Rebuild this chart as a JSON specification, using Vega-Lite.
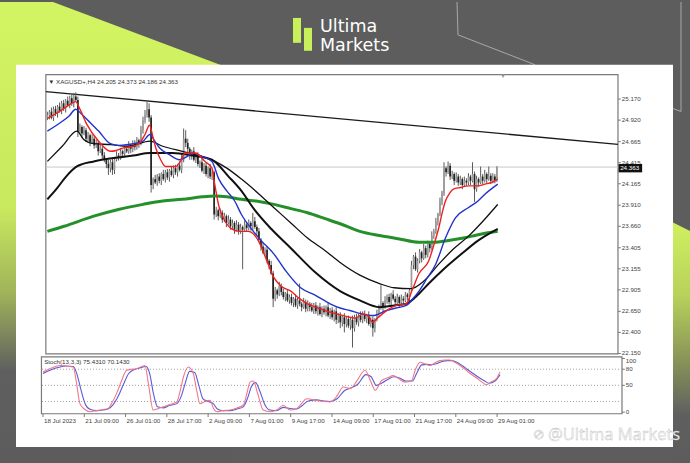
{
"$schema":"https://vega.github.io/schema/vega-lite/v6.json",
"width":690,"height":463,"padding":0,
"autosize":{"type":"fit","contains":"padding"},
"background":"#5d5d5d",
"config":{"view":{"stroke":null},"axis":{"disable":true},"text":{"font":"Liberation Sans"}},
"datasets":{
"candles":[
{"i":0,"o":24.95,"h":25.02,"l":24.92,"c":24.98},{"i":1,"o":24.98,"h":25.04,"l":24.93,"c":25.02},{"i":2,"o":25.02,"h":25.07,"l":24.93,"c":24.95},{"i":3,"o":24.95,"h":25.08,"l":24.91,"c":25.05},{"i":4,"o":25.05,"h":25.09,"l":24.97,"c":25.0},{"i":5,"o":25.0,"h":25.1,"l":24.95,"c":25.08},{"i":6,"o":25.08,"h":25.13,"l":25.01,"c":25.03},{"i":7,"o":25.03,"h":25.15,"l":24.99,"c":25.12},{"i":8,"o":25.12,"h":25.16,"l":25.03,"c":25.06},{"i":9,"o":25.06,"h":25.17,"l":25.01,"c":25.15},
{"i":10,"o":25.15,"h":25.2,"l":25.08,"c":25.1},{"i":11,"o":25.1,"h":25.21,"l":25.06,"c":25.18},{"i":12,"o":25.18,"h":25.22,"l":25.09,"c":25.12},{"i":13,"o":25.12,"h":25.24,"l":25.07,"c":25.2},{"i":14,"o":25.2,"h":25.25,"l":25.14,"c":25.16},{"i":15,"o":25.16,"h":25.2,"l":24.72,"c":24.78},{"i":16,"o":24.78,"h":24.88,"l":24.75,"c":24.84},{"i":17,"o":24.84,"h":24.86,"l":24.71,"c":24.76},{"i":18,"o":24.76,"h":24.85,"l":24.74,"c":24.8},{"i":19,"o":24.8,"h":24.83,"l":24.66,"c":24.7},
{"i":20,"o":24.7,"h":24.78,"l":24.67,"c":24.74},{"i":21,"o":24.74,"h":24.76,"l":24.61,"c":24.66},{"i":22,"o":24.66,"h":24.75,"l":24.64,"c":24.7},{"i":23,"o":24.7,"h":24.73,"l":24.58,"c":24.62},{"i":24,"o":24.62,"h":24.69,"l":24.59,"c":24.65},{"i":25,"o":24.65,"h":24.67,"l":24.5,"c":24.55},{"i":26,"o":24.55,"h":24.63,"l":24.53,"c":24.58},{"i":27,"o":24.58,"h":24.61,"l":24.46,"c":24.5},{"i":28,"o":24.5,"h":24.54,"l":24.42,"c":24.45},{"i":29,"o":24.45,"h":24.47,"l":24.35,"c":24.4},
{"i":30,"o":24.4,"h":24.45,"l":24.27,"c":24.35},{"i":31,"o":24.35,"h":24.45,"l":24.3,"c":24.42},{"i":32,"o":24.42,"h":24.46,"l":24.27,"c":24.33},{"i":33,"o":24.33,"h":24.47,"l":24.28,"c":24.45},{"i":34,"o":24.45,"h":24.55,"l":24.43,"c":24.5},{"i":35,"o":24.5,"h":24.53,"l":24.44,"c":24.48},{"i":36,"o":24.48,"h":24.59,"l":24.45,"c":24.55},{"i":37,"o":24.55,"h":24.57,"l":24.47,"c":24.52},{"i":38,"o":24.52,"h":24.61,"l":24.48,"c":24.58},{"i":39,"o":24.58,"h":24.6,"l":24.53,"c":24.55},
{"i":40,"o":24.55,"h":24.67,"l":24.52,"c":24.62},{"i":41,"o":24.62,"h":24.64,"l":24.53,"c":24.58},{"i":42,"o":24.58,"h":24.68,"l":24.54,"c":24.65},{"i":43,"o":24.65,"h":24.68,"l":24.56,"c":24.6},{"i":44,"o":24.6,"h":24.72,"l":24.57,"c":24.68},{"i":45,"o":24.68,"h":24.7,"l":24.59,"c":24.64},{"i":46,"o":24.64,"h":24.85,"l":24.62,"c":24.8},{"i":47,"o":24.8,"h":24.96,"l":24.76,"c":24.92},{"i":48,"o":24.92,"h":25.04,"l":24.88,"c":24.98},{"i":49,"o":24.98,"h":25.14,"l":24.95,"c":25.05},
{"i":50,"o":25.05,"h":25.12,"l":24.9,"c":24.95},{"i":51,"o":24.95,"h":24.98,"l":24.06,"c":24.15},{"i":52,"o":24.15,"h":24.24,"l":24.1,"c":24.22},{"i":53,"o":24.22,"h":24.27,"l":24.16,"c":24.18},{"i":54,"o":24.18,"h":24.28,"l":24.14,"c":24.25},{"i":55,"o":24.25,"h":24.29,"l":24.17,"c":24.2},{"i":56,"o":24.2,"h":24.3,"l":24.15,"c":24.28},{"i":57,"o":24.28,"h":24.33,"l":24.2,"c":24.22},{"i":58,"o":24.22,"h":24.33,"l":24.18,"c":24.3},{"i":59,"o":24.3,"h":24.34,"l":24.21,"c":24.24},
{"i":60,"o":24.24,"h":24.34,"l":24.19,"c":24.32},{"i":61,"o":24.32,"h":24.37,"l":24.25,"c":24.27},{"i":62,"o":24.27,"h":24.38,"l":24.23,"c":24.35},{"i":63,"o":24.35,"h":24.39,"l":24.27,"c":24.3},{"i":64,"o":24.3,"h":24.4,"l":24.25,"c":24.38},{"i":65,"o":24.38,"h":24.43,"l":24.31,"c":24.33},{"i":66,"o":24.33,"h":24.52,"l":24.29,"c":24.45},{"i":67,"o":24.45,"h":24.82,"l":24.42,"c":24.7},{"i":68,"o":24.7,"h":24.8,"l":24.6,"c":24.65},{"i":69,"o":24.65,"h":24.7,"l":24.54,"c":24.58},
{"i":70,"o":24.58,"h":24.6,"l":24.45,"c":24.5},{"i":71,"o":24.5,"h":24.57,"l":24.45,"c":24.55},{"i":72,"o":24.55,"h":24.6,"l":24.43,"c":24.45},{"i":73,"o":24.45,"h":24.53,"l":24.41,"c":24.5},{"i":74,"o":24.5,"h":24.54,"l":24.37,"c":24.4},{"i":75,"o":24.4,"h":24.44,"l":24.35,"c":24.42},{"i":76,"o":24.42,"h":24.47,"l":24.3,"c":24.32},{"i":77,"o":24.32,"h":24.41,"l":24.28,"c":24.38},{"i":78,"o":24.38,"h":24.42,"l":24.25,"c":24.28},{"i":79,"o":24.28,"h":24.37,"l":24.23,"c":24.35},
{"i":80,"o":24.35,"h":24.4,"l":24.22,"c":24.25},{"i":81,"o":24.25,"h":24.33,"l":24.21,"c":24.3},{"i":82,"o":24.3,"h":24.32,"l":23.74,"c":23.8},{"i":83,"o":23.8,"h":23.89,"l":23.77,"c":23.85},{"i":84,"o":23.85,"h":23.87,"l":23.73,"c":23.78},{"i":85,"o":23.78,"h":23.87,"l":23.76,"c":23.82},{"i":86,"o":23.82,"h":23.85,"l":23.7,"c":23.74},{"i":87,"o":23.74,"h":23.82,"l":23.71,"c":23.78},{"i":88,"o":23.78,"h":23.8,"l":23.65,"c":23.7},{"i":89,"o":23.7,"h":23.79,"l":23.68,"c":23.74},
{"i":90,"o":23.74,"h":23.77,"l":23.62,"c":23.66},{"i":91,"o":23.66,"h":23.74,"l":23.63,"c":23.7},{"i":92,"o":23.7,"h":23.72,"l":23.57,"c":23.62},{"i":93,"o":23.62,"h":23.73,"l":23.6,"c":23.68},{"i":94,"o":23.68,"h":23.71,"l":23.56,"c":23.6},{"i":95,"o":23.6,"h":23.69,"l":23.57,"c":23.65},{"i":96,"o":23.65,"h":23.67,"l":23.15,"c":23.62},{"i":97,"o":23.62,"h":23.73,"l":23.6,"c":23.68},{"i":98,"o":23.68,"h":23.71,"l":23.6,"c":23.64},{"i":99,"o":23.64,"h":23.74,"l":23.61,"c":23.7},
{"i":100,"o":23.7,"h":23.72,"l":23.61,"c":23.66},{"i":101,"o":23.66,"h":23.82,"l":23.61,"c":23.72},{"i":102,"o":23.72,"h":23.77,"l":23.63,"c":23.65},{"i":103,"o":23.65,"h":23.68,"l":23.56,"c":23.6},{"i":104,"o":23.6,"h":23.64,"l":23.47,"c":23.5},{"i":105,"o":23.5,"h":23.52,"l":23.37,"c":23.42},{"i":106,"o":23.42,"h":23.47,"l":23.33,"c":23.35},{"i":107,"o":23.35,"h":23.41,"l":23.31,"c":23.38},{"i":108,"o":23.38,"h":23.42,"l":23.22,"c":23.25},{"i":109,"o":23.25,"h":23.27,"l":23.15,"c":23.2},
{"i":110,"o":23.2,"h":23.25,"l":23.08,"c":23.1},{"i":111,"o":23.1,"h":23.13,"l":22.7,"c":22.8},{"i":112,"o":22.8,"h":22.94,"l":22.77,"c":22.9},{"i":113,"o":22.9,"h":22.92,"l":22.8,"c":22.85},{"i":114,"o":22.85,"h":23.0,"l":22.83,"c":22.95},{"i":115,"o":22.95,"h":22.98,"l":22.84,"c":22.88},{"i":116,"o":22.88,"h":22.92,"l":22.79,"c":22.82},{"i":117,"o":22.82,"h":22.88,"l":22.77,"c":22.86},{"i":118,"o":22.86,"h":22.91,"l":22.76,"c":22.78},{"i":119,"o":22.78,"h":22.85,"l":22.74,"c":22.82},
{"i":120,"o":22.82,"h":22.86,"l":22.72,"c":22.75},{"i":121,"o":22.75,"h":22.82,"l":22.7,"c":22.8},{"i":122,"o":22.8,"h":22.85,"l":22.7,"c":22.72},{"i":123,"o":22.72,"h":22.81,"l":22.68,"c":22.78},{"i":124,"o":22.78,"h":22.98,"l":22.71,"c":22.74},{"i":125,"o":22.74,"h":22.76,"l":22.65,"c":22.7},{"i":126,"o":22.7,"h":22.81,"l":22.68,"c":22.76},{"i":127,"o":22.76,"h":22.79,"l":22.64,"c":22.68},{"i":128,"o":22.68,"h":22.78,"l":22.65,"c":22.74},{"i":129,"o":22.74,"h":22.76,"l":22.65,"c":22.7},
{"i":130,"o":22.7,"h":22.75,"l":22.64,"c":22.66},{"i":131,"o":22.66,"h":22.75,"l":22.62,"c":22.72},{"i":132,"o":22.72,"h":22.76,"l":22.62,"c":22.65},{"i":133,"o":22.65,"h":22.72,"l":22.6,"c":22.7},{"i":134,"o":22.7,"h":22.75,"l":22.6,"c":22.62},{"i":135,"o":22.62,"h":22.71,"l":22.58,"c":22.68},{"i":136,"o":22.68,"h":22.72,"l":22.61,"c":22.64},{"i":137,"o":22.64,"h":22.72,"l":22.59,"c":22.7},{"i":138,"o":22.7,"h":22.75,"l":22.58,"c":22.6},{"i":139,"o":22.6,"h":22.69,"l":22.56,"c":22.66},
{"i":140,"o":22.66,"h":22.7,"l":22.55,"c":22.58},{"i":141,"o":22.58,"h":22.67,"l":22.53,"c":22.65},{"i":142,"o":22.65,"h":22.7,"l":22.5,"c":22.55},{"i":143,"o":22.55,"h":22.63,"l":22.51,"c":22.6},{"i":144,"o":22.6,"h":22.64,"l":22.45,"c":22.52},{"i":145,"o":22.52,"h":22.6,"l":22.47,"c":22.58},{"i":146,"o":22.58,"h":22.63,"l":22.4,"c":22.5},{"i":147,"o":22.5,"h":22.59,"l":22.46,"c":22.56},{"i":148,"o":22.56,"h":22.6,"l":22.45,"c":22.48},{"i":149,"o":22.48,"h":22.57,"l":22.43,"c":22.55},
{"i":150,"o":22.55,"h":22.6,"l":22.22,"c":22.45},{"i":151,"o":22.45,"h":22.61,"l":22.41,"c":22.58},{"i":152,"o":22.58,"h":22.62,"l":22.49,"c":22.52},{"i":153,"o":22.52,"h":22.62,"l":22.47,"c":22.6},{"i":154,"o":22.6,"h":22.65,"l":22.52,"c":22.55},{"i":155,"o":22.55,"h":22.65,"l":22.51,"c":22.62},{"i":156,"o":22.62,"h":22.66,"l":22.53,"c":22.56},{"i":157,"o":22.56,"h":22.62,"l":22.51,"c":22.6},{"i":158,"o":22.6,"h":22.65,"l":22.48,"c":22.5},{"i":159,"o":22.5,"h":22.58,"l":22.46,"c":22.55},
{"i":160,"o":22.55,"h":22.59,"l":22.35,"c":22.45},{"i":161,"o":22.45,"h":22.57,"l":22.4,"c":22.55},{"i":162,"o":22.55,"h":22.67,"l":22.53,"c":22.62},{"i":163,"o":22.62,"h":22.73,"l":22.58,"c":22.7},{"i":164,"o":22.7,"h":22.96,"l":22.67,"c":22.75},{"i":165,"o":22.75,"h":22.77,"l":22.65,"c":22.7},{"i":166,"o":22.7,"h":22.83,"l":22.68,"c":22.78},{"i":167,"o":22.78,"h":22.85,"l":22.74,"c":22.82},{"i":168,"o":22.82,"h":22.86,"l":22.73,"c":22.76},{"i":169,"o":22.76,"h":22.87,"l":22.71,"c":22.85},
{"i":170,"o":22.85,"h":22.9,"l":22.78,"c":22.8},{"i":171,"o":22.8,"h":22.83,"l":22.72,"c":22.76},{"i":172,"o":22.76,"h":22.86,"l":22.73,"c":22.82},{"i":173,"o":22.82,"h":22.84,"l":22.7,"c":22.75},{"i":174,"o":22.75,"h":22.85,"l":22.73,"c":22.8},{"i":175,"o":22.8,"h":22.83,"l":22.74,"c":22.78},{"i":176,"o":22.78,"h":22.88,"l":22.76,"c":22.85},{"i":177,"o":22.85,"h":22.87,"l":22.78,"c":22.82},{"i":178,"o":22.82,"h":22.92,"l":22.77,"c":22.9},{"i":179,"o":22.9,"h":23.25,"l":22.88,"c":23.2},
{"i":180,"o":23.2,"h":23.32,"l":23.15,"c":23.3},{"i":181,"o":23.3,"h":23.35,"l":23.13,"c":23.15},{"i":182,"o":23.15,"h":23.28,"l":23.11,"c":23.25},{"i":183,"o":23.25,"h":23.39,"l":23.22,"c":23.35},{"i":184,"o":23.35,"h":23.37,"l":23.23,"c":23.28},{"i":185,"o":23.28,"h":23.45,"l":23.26,"c":23.4},{"i":186,"o":23.4,"h":23.43,"l":23.28,"c":23.32},{"i":187,"o":23.32,"h":23.49,"l":23.29,"c":23.45},{"i":188,"o":23.45,"h":23.47,"l":23.35,"c":23.4},{"i":189,"o":23.4,"h":23.6,"l":23.38,"c":23.55},
{"i":190,"o":23.55,"h":23.63,"l":23.51,"c":23.6},{"i":191,"o":23.6,"h":23.76,"l":23.57,"c":23.72},{"i":192,"o":23.72,"h":23.82,"l":23.67,"c":23.8},{"i":193,"o":23.8,"h":24.0,"l":23.78,"c":23.95},{"i":194,"o":23.95,"h":24.08,"l":23.91,"c":24.05},{"i":195,"o":24.05,"h":24.42,"l":24.02,"c":24.35},{"i":196,"o":24.35,"h":24.37,"l":24.25,"c":24.3},{"i":197,"o":24.3,"h":24.43,"l":24.28,"c":24.38},{"i":198,"o":24.38,"h":24.41,"l":24.21,"c":24.25},{"i":199,"o":24.25,"h":24.32,"l":24.22,"c":24.28},
{"i":200,"o":24.28,"h":24.3,"l":24.15,"c":24.2},{"i":201,"o":24.2,"h":24.3,"l":24.18,"c":24.25},{"i":202,"o":24.25,"h":24.28,"l":24.14,"c":24.18},{"i":203,"o":24.18,"h":24.26,"l":24.15,"c":24.22},{"i":204,"o":24.22,"h":24.24,"l":24.1,"c":24.15},{"i":205,"o":24.15,"h":24.25,"l":24.13,"c":24.2},{"i":206,"o":24.2,"h":24.23,"l":24.14,"c":24.18},{"i":207,"o":24.18,"h":24.29,"l":24.15,"c":24.25},{"i":208,"o":24.25,"h":24.27,"l":24.15,"c":24.2},{"i":209,"o":24.2,"h":24.42,"l":24.18,"c":24.28},
{"i":210,"o":24.28,"h":24.31,"l":23.95,"c":24.1},{"i":211,"o":24.1,"h":24.26,"l":24.07,"c":24.22},{"i":212,"o":24.22,"h":24.24,"l":24.13,"c":24.18},{"i":213,"o":24.18,"h":24.37,"l":24.16,"c":24.25},{"i":214,"o":24.25,"h":24.28,"l":24.16,"c":24.2},{"i":215,"o":24.2,"h":24.33,"l":24.18,"c":24.28},{"i":216,"o":24.28,"h":24.3,"l":24.17,"c":24.22},{"i":217,"o":24.22,"h":24.37,"l":24.2,"c":24.26},{"i":218,"o":24.26,"h":24.29,"l":24.16,"c":24.2},{"i":219,"o":24.2,"h":24.29,"l":24.17,"c":24.25},
{"i":220,"o":24.25,"h":24.28,"l":24.17,"c":24.205},{"i":221,"o":24.205,"h":24.373,"l":24.186,"c":24.363}
],
"red":[{"i":0,"p":24.94},{"i":5.8,"p":25.02},{"i":10.7,"p":25.1},{"i":13.9,"p":25.14},{"i":16,"p":25.05},{"i":19.4,"p":24.87},{"i":25.2,"p":24.67},{"i":31,"p":24.55},{"i":33.9,"p":24.56},{"i":37.3,"p":24.59},{"i":42.2,"p":24.61},{"i":45.4,"p":24.65},{"i":48,"p":24.75},{"i":50.2,"p":24.86},{"i":51.8,"p":24.73},{"i":53.3,"p":24.59},{"i":55.7,"p":24.45},{"i":58.1,"p":24.37},{"i":63,"p":24.37},{"i":65.4,"p":24.43},{"i":67.8,"p":24.53},{"i":72.7,"p":24.53},{"i":77.5,"p":24.43},{"i":80.9,"p":24.35},{"i":82.4,"p":24.14},{"i":84.3,"p":23.9},{"i":86.7,"p":23.75},{"i":90.6,"p":23.63},{"i":94.5,"p":23.6},{"i":98.8,"p":23.6},{"i":103.7,"p":23.49},{"i":107.6,"p":23.27},{"i":111.4,"p":23.05},{"i":114.8,"p":22.95},{"i":119.7,"p":22.89},{"i":123.5,"p":22.81},{"i":127.9,"p":22.74},{"i":134.2,"p":22.68},{"i":139,"p":22.64},{"i":143.9,"p":22.61},{"i":148.7,"p":22.58},{"i":151.6,"p":22.57},{"i":155,"p":22.62},{"i":157.5,"p":22.6},{"i":159.9,"p":22.52},{"i":162.3,"p":22.57},{"i":164.7,"p":22.62},{"i":168.1,"p":22.68},{"i":171.5,"p":22.72},{"i":176.4,"p":22.74},{"i":179.3,"p":22.9},{"i":182.7,"p":23.1},{"i":187.5,"p":23.25},{"i":189.9,"p":23.43},{"i":192.4,"p":23.64},{"i":194.3,"p":23.84},{"i":195.7,"p":23.96},{"i":197.7,"p":24.05},{"i":199.6,"p":24.1},{"i":203,"p":24.12},{"i":206.9,"p":24.14},{"i":211.7,"p":24.14},{"i":215.1,"p":24.16},{"i":218.5,"p":24.18},{"i":221.4,"p":24.22}],
"blue":[{"i":0,"p":24.79},{"i":5.8,"p":24.88},{"i":10.7,"p":24.97},{"i":13.9,"p":25.05},{"i":16.5,"p":25.0},{"i":19.4,"p":24.93},{"i":25.2,"p":24.79},{"i":31,"p":24.64},{"i":34.9,"p":24.62},{"i":39.7,"p":24.63},{"i":47,"p":24.67},{"i":50.4,"p":24.75},{"i":52.8,"p":24.67},{"i":55.2,"p":24.59},{"i":60,"p":24.51},{"i":64.9,"p":24.45},{"i":68.8,"p":24.49},{"i":71.2,"p":24.53},{"i":76,"p":24.49},{"i":80.9,"p":24.43},{"i":84.3,"p":24.22},{"i":88.2,"p":24.08},{"i":92.1,"p":23.96},{"i":95.4,"p":23.8},{"i":100.3,"p":23.63},{"i":105.1,"p":23.49},{"i":111.4,"p":23.33},{"i":117.2,"p":23.13},{"i":124.5,"p":22.93},{"i":131.8,"p":22.84},{"i":139,"p":22.74},{"i":143.9,"p":22.69},{"i":148.7,"p":22.66},{"i":154.5,"p":22.62},{"i":159.9,"p":22.6},{"i":166.7,"p":22.66},{"i":171.5,"p":22.69},{"i":176.4,"p":22.72},{"i":179.7,"p":22.8},{"i":182.7,"p":22.89},{"i":186.6,"p":23.04},{"i":190.9,"p":23.21},{"i":195.7,"p":23.52},{"i":200.6,"p":23.76},{"i":206.9,"p":23.88},{"i":211.7,"p":23.96},{"i":215.1,"p":24.04},{"i":221.4,"p":24.16}],
"k1":[{"i":0,"p":24.43},{"i":7.3,"p":24.61},{"i":14.5,"p":24.79},{"i":17.9,"p":24.69},{"i":22.8,"p":24.64},{"i":31,"p":24.63},{"i":39.7,"p":24.61},{"i":50.4,"p":24.67},{"i":56.7,"p":24.61},{"i":66.4,"p":24.55},{"i":76,"p":24.49},{"i":82.4,"p":24.43},{"i":88.2,"p":24.35},{"i":95.4,"p":24.22},{"i":103.7,"p":24.05},{"i":111.4,"p":23.88},{"i":119.7,"p":23.7},{"i":127.9,"p":23.52},{"i":136.6,"p":23.37},{"i":143.9,"p":23.23},{"i":153.6,"p":23.08},{"i":163.3,"p":22.98},{"i":170.5,"p":22.93},{"i":178.8,"p":22.92},{"i":185.1,"p":23.01},{"i":192.4,"p":23.21},{"i":199.6,"p":23.39},{"i":206.9,"p":23.54},{"i":214.1,"p":23.72},{"i":221.4,"p":23.92}],
"k2":[{"i":0,"p":23.98},{"i":4.4,"p":24.1},{"i":9.2,"p":24.25},{"i":14.5,"p":24.37},{"i":22.8,"p":24.43},{"i":32.5,"p":24.47},{"i":42.2,"p":24.5},{"i":50.4,"p":24.53},{"i":61.5,"p":24.53},{"i":71.2,"p":24.5},{"i":80.9,"p":24.45},{"i":89.1,"p":24.25},{"i":95.4,"p":24.08},{"i":101.7,"p":23.86},{"i":110,"p":23.63},{"i":119.7,"p":23.4},{"i":131.8,"p":23.11},{"i":143.9,"p":22.89},{"i":153.6,"p":22.78},{"i":163.3,"p":22.7},{"i":170.5,"p":22.72},{"i":176.4,"p":22.74},{"i":182.7,"p":22.86},{"i":187.5,"p":22.98},{"i":194.8,"p":23.15},{"i":203.5,"p":23.33},{"i":211.7,"p":23.49},{"i":221.4,"p":23.63}],
"green":[{"i":0,"p":23.6},{"i":8.2,"p":23.66},{"i":22.8,"p":23.78},{"i":34.9,"p":23.86},{"i":47,"p":23.92},{"i":56.7,"p":23.96},{"i":66.4,"p":23.98},{"i":76,"p":24.01},{"i":82.4,"p":24.02},{"i":88.2,"p":24.01},{"i":95.4,"p":23.98},{"i":102.7,"p":23.96},{"i":111.4,"p":23.92},{"i":119.7,"p":23.87},{"i":127.9,"p":23.82},{"i":136.6,"p":23.75},{"i":143.9,"p":23.69},{"i":153.6,"p":23.6},{"i":163.3,"p":23.55},{"i":173,"p":23.51},{"i":182.7,"p":23.47},{"i":189.9,"p":23.47},{"i":197.2,"p":23.49},{"i":204.5,"p":23.52},{"i":211.7,"p":23.56},{"i":221.4,"p":23.6}],
"trend":[{"i":-0.75,"p":25.259},{"i":280.52,"p":24.632}],
"plab":[{"p":25.17,"t":"25.170"},{"p":24.92,"t":"24.920"},{"p":24.665,"t":"24.665"},{"p":24.415,"t":"24.415"},{"p":24.165,"t":"24.165"},{"p":23.91,"t":"23.910"},{"p":23.66,"t":"23.660"},{"p":23.405,"t":"23.405"},{"p":23.155,"t":"23.155"},{"p":22.905,"t":"22.905"},{"p":22.65,"t":"22.650"},{"p":22.4,"t":"22.400"},{"p":22.15,"t":"22.150"}],
"dlab":[{"i":0,"t":"18 Jul 2023"},{"i":20,"t":"21 Jul 09:00"},{"i":40,"t":"26 Jul 01:00"},{"i":60,"t":"28 Jul 17:00"},{"i":80,"t":"2 Aug 09:00"},{"i":100,"t":"7 Aug 01:00"},{"i":120,"t":"9 Aug 17:00"},{"i":140,"t":"14 Aug 09:00"},{"i":160,"t":"17 Aug 01:00"},{"i":180,"t":"21 Aug 17:00"},{"i":200,"t":"24 Aug 09:00"},{"i":220,"t":"29 Aug 01:00"}],
"slab":[{"v":100,"t":"100"},{"v":80,"t":"80"},{"v":50,"t":"50"},{"v":0,"t":"0"}],
"lev":[{"v":80},{"v":50},{"v":20}],
"stm":[{"i":0,"v":75},{"i":3.4,"v":81},{"i":8.2,"v":87},{"i":11,"v":86},{"i":14.7,"v":84},{"i":16,"v":60},{"i":17.9,"v":16},{"i":20,"v":6},{"i":22.8,"v":1},{"i":26,"v":3},{"i":29,"v":5},{"i":31.5,"v":7},{"i":33.5,"v":18},{"i":35.7,"v":35},{"i":38,"v":58},{"i":40.5,"v":78},{"i":43,"v":80},{"i":45.4,"v":81},{"i":49.4,"v":87},{"i":51,"v":55},{"i":53.4,"v":4},{"i":56,"v":7},{"i":58.3,"v":10},{"i":61,"v":14},{"i":64.8,"v":19},{"i":66.5,"v":40},{"i":68,"v":65},{"i":70.4,"v":84},{"i":72.8,"v":72},{"i":74.5,"v":40},{"i":76,"v":16},{"i":78.5,"v":20},{"i":80.9,"v":22},{"i":82.5,"v":8},{"i":84.2,"v":1},{"i":87,"v":3},{"i":90.6,"v":4},{"i":94,"v":8},{"i":97,"v":13},{"i":98.8,"v":35},{"i":100.3,"v":56},{"i":101.9,"v":58},{"i":104,"v":35},{"i":106.7,"v":4},{"i":110,"v":1},{"i":113.2,"v":4},{"i":116.4,"v":13},{"i":119.7,"v":4},{"i":122.9,"v":7},{"i":125,"v":15},{"i":127.8,"v":25},{"i":132.6,"v":22},{"i":136,"v":20},{"i":139,"v":19},{"i":142,"v":28},{"i":145.5,"v":47},{"i":149,"v":44},{"i":152,"v":58},{"i":156,"v":78},{"i":158.5,"v":60},{"i":161,"v":41},{"i":164,"v":59},{"i":167,"v":64},{"i":169.7,"v":68},{"i":172.5,"v":62},{"i":175.3,"v":56},{"i":178.6,"v":59},{"i":180.5,"v":80},{"i":182.7,"v":93},{"i":185,"v":90},{"i":187.5,"v":87},{"i":190,"v":92},{"i":192.3,"v":96},{"i":195,"v":97},{"i":197.2,"v":97},{"i":200,"v":92},{"i":202,"v":87},{"i":204.5,"v":80},{"i":206.9,"v":72},{"i":210,"v":64},{"i":213,"v":55},{"i":214.9,"v":51},{"i":217,"v":56},{"i":219.8,"v":63},{"i":221.4,"v":75}],
"sts":[{"i":0,"v":72},{"i":3.4,"v":78},{"i":8.2,"v":84},{"i":11,"v":86},{"i":14.7,"v":85},{"i":16.5,"v":70},{"i":18.5,"v":40},{"i":20.5,"v":15},{"i":23,"v":5},{"i":26,"v":3},{"i":29,"v":4},{"i":31.5,"v":6},{"i":34,"v":14},{"i":36.5,"v":30},{"i":39,"v":52},{"i":41.5,"v":72},{"i":44,"v":79},{"i":46.5,"v":82},{"i":50,"v":85},{"i":51.8,"v":70},{"i":53.5,"v":35},{"i":55.5,"v":10},{"i":58.3,"v":8},{"i":61,"v":12},{"i":64.8,"v":16},{"i":67,"v":30},{"i":69,"v":55},{"i":71,"v":76},{"i":73.5,"v":74},{"i":75.5,"v":50},{"i":77.5,"v":25},{"i":80,"v":20},{"i":82.5,"v":16},{"i":84.5,"v":6},{"i":87,"v":3},{"i":90.6,"v":3},{"i":94,"v":6},{"i":97,"v":10},{"i":99.3,"v":28},{"i":101,"v":48},{"i":103,"v":55},{"i":105,"v":40},{"i":107.5,"v":14},{"i":110,"v":4},{"i":113.2,"v":3},{"i":116.4,"v":9},{"i":119.7,"v":7},{"i":122.9,"v":6},{"i":125.5,"v":12},{"i":128.5,"v":21},{"i":132.6,"v":23},{"i":136,"v":21},{"i":139,"v":20},{"i":142.5,"v":25},{"i":146,"v":40},{"i":149,"v":45},{"i":152.5,"v":52},{"i":156.5,"v":70},{"i":159,"v":66},{"i":161.5,"v":50},{"i":164.5,"v":55},{"i":167.5,"v":62},{"i":170,"v":66},{"i":173,"v":63},{"i":175.8,"v":58},{"i":179,"v":58},{"i":181,"v":72},{"i":183.5,"v":88},{"i":186,"v":89},{"i":188,"v":88},{"i":190.5,"v":90},{"i":193,"v":94},{"i":196,"v":96},{"i":198,"v":96},{"i":200.5,"v":93},{"i":203,"v":87},{"i":205.5,"v":80},{"i":208,"v":73},{"i":211,"v":65},{"i":214,"v":58},{"i":216,"v":54},{"i":219,"v":58},{"i":221.4,"v":70}]
},
"layer":[
{"layer":[
 {"data":{"values":[{"cx":0,"cy":0,"cy2":463},{"cx":53,"cy":0,"cy2":463},{"cx":232,"cy":67.5,"cy2":463}]},
  "mark":{"type":"area","orient":"vertical","color":{"gradient":"linear","x1":0,"y1":0,"x2":0,"y2":1,"stops":[{"offset":0,"color":"#d3f462"},{"offset":0.45,"color":"#c8e85e"},{"offset":0.63,"color":"#a0b45a"},{"offset":0.8,"color":"#5f5f5f"},{"offset":1,"color":"#5c5c5c"}]}},
  "encoding":{"x":{"field":"cx","type":"quantitative","scale":{"domain":[0,690],"nice":false,"zero":false}},"y":{"field":"cy","type":"quantitative","scale":{"domain":[0,463],"reverse":true,"nice":false,"zero":false}},"y2":{"field":"cy2"}}},
 {"data":{"values":[{"cx":672,"cy":221,"cy2":463},{"cx":690,"cy":230,"cy2":463}]},
  "mark":{"type":"area","orient":"vertical","color":{"gradient":"linear","x1":0,"y1":0,"x2":0,"y2":1,"stops":[{"offset":0,"color":"#d0f060"},{"offset":0.3,"color":"#b8d25a"},{"offset":0.6,"color":"#838e58"},{"offset":0.8,"color":"#5f5f5f"},{"offset":1,"color":"#5c5c5c"}]}},
  "encoding":{"x":{"field":"cx","type":"quantitative","scale":{"domain":[0,690],"nice":false,"zero":false}},"y":{"field":"cy","type":"quantitative","scale":{"domain":[0,463],"reverse":true,"nice":false,"zero":false}},"y2":{"field":"cy2"}}},
 {"data":{"values":[{"cx":457,"cy":0,"g":"a","k":0},{"cx":458,"cy":33,"g":"a","k":1},{"cx":535,"cy":63,"g":"a","k":2},{"cx":681,"cy":0,"g":"b","k":0},{"cx":681,"cy":110,"g":"b","k":1},{"cx":673,"cy":107,"g":"b","k":2}]},
  "mark":{"type":"line","color":"#a8a8a8","strokeWidth":1},
  "encoding":{"x":{"field":"cx","type":"quantitative","scale":{"domain":[0,690],"nice":false,"zero":false}},"y":{"field":"cy","type":"quantitative","scale":{"domain":[0,463],"reverse":true,"nice":false,"zero":false}},"detail":{"field":"g"},"order":{"field":"k"}}},
 {"data":{"values":[{"cx":16,"cx2":673,"cy":63,"cy2":447}]},
  "mark":{"type":"rect","color":"#ffffff"},
  "encoding":{"x":{"field":"cx","type":"quantitative","scale":{"domain":[0,690],"nice":false,"zero":false}},"x2":{"field":"cx2"},"y":{"field":"cy","type":"quantitative","scale":{"domain":[0,463],"reverse":true,"nice":false,"zero":false}},"y2":{"field":"cy2"}}},
 {"data":{"values":[{"cx":293,"cx2":301,"cy":16,"cy2":41},{"cx":304,"cx2":312,"cy":26,"cy2":49}]},
  "mark":{"type":"rect","color":"#c8f05a"},
  "encoding":{"x":{"field":"cx","type":"quantitative","scale":{"domain":[0,690],"nice":false,"zero":false}},"x2":{"field":"cx2"},"y":{"field":"cy","type":"quantitative","scale":{"domain":[0,463],"reverse":true,"nice":false,"zero":false}},"y2":{"field":"cy2"}}},
 {"data":{"values":[{"cx":320,"cy":30.5,"t":"Ultima"},{"cx":320,"cy":49,"t":"Markets"}]},
  "mark":{"type":"text","align":"left","baseline":"alphabetic","font":"DejaVu Sans","fontSize":17.5,"color":"#ffffff"},
  "encoding":{"x":{"field":"cx","type":"quantitative","scale":{"domain":[0,690],"nice":false,"zero":false}},"y":{"field":"cy","type":"quantitative","scale":{"domain":[0,463],"reverse":true,"nice":false,"zero":false}},"text":{"field":"t"}}}
]},
{"layer":[
 {"data":{"values":[{"i":-0.75,"i2":280.52,"p":25.46,"p2":22.144}]},
  "mark":{"type":"rect","fill":"#ffffff","fillOpacity":0,"stroke":"#7a7a7a","strokeWidth":1.2},
  "encoding":{"x":{"field":"i","type":"quantitative","scale":{"domain":[-20.833,313.47],"nice":false,"zero":false}},"x2":{"field":"i2"},"y":{"field":"p","type":"quantitative","scale":{"domain":[20.8497,26.3225],"nice":false,"zero":false}},"y2":{"field":"p2"}}},
 {"data":{"values":[{"i":-0.75,"i2":280.52,"p":24.363}]},
  "mark":{"type":"rule","color":"#c8c8c8","strokeWidth":1},
  "encoding":{"x":{"field":"i","type":"quantitative","scale":{"domain":[-20.833,313.47],"nice":false,"zero":false}},"x2":{"field":"i2"},"y":{"field":"p","type":"quantitative","scale":{"domain":[20.8497,26.3225],"nice":false,"zero":false}}}},
 {"data":{"name":"trend"},
  "mark":{"type":"line","color":"#1a1a1a","strokeWidth":1.3},
  "encoding":{"x":{"field":"i","type":"quantitative","scale":{"domain":[-20.833,313.47],"nice":false,"zero":false}},"y":{"field":"p","type":"quantitative","scale":{"domain":[20.8497,26.3225],"nice":false,"zero":false}}}},
 {"data":{"values":[{"i":223.8,"p":25.44,"t":"▾"}]},
  "mark":{"type":"text","align":"center","baseline":"middle","fontSize":8,"color":"#909090"},
  "encoding":{"x":{"field":"i","type":"quantitative","scale":{"domain":[-20.833,313.47],"nice":false,"zero":false}},"y":{"field":"p","type":"quantitative","scale":{"domain":[20.8497,26.3225],"nice":false,"zero":false}},"text":{"field":"t"}}},
 {"data":{"name":"candles"},
  "mark":{"type":"rule","color":"#5a5a5a","strokeWidth":1},
  "encoding":{"x":{"field":"i","type":"quantitative","scale":{"domain":[-20.833,313.47],"nice":false,"zero":false}},"y":{"field":"l","type":"quantitative","scale":{"domain":[20.8497,26.3225],"nice":false,"zero":false}},"y2":{"field":"h"}}},
 {"data":{"name":"candles"},
  "mark":{"type":"bar","size":1.7},
  "encoding":{"x":{"field":"i","type":"quantitative","scale":{"domain":[-20.833,313.47],"nice":false,"zero":false}},"y":{"field":"o","type":"quantitative","scale":{"domain":[20.8497,26.3225],"nice":false,"zero":false}},"y2":{"field":"c"},
   "color":{"condition":{"test":"datum.c < datum.o","value":"#222222"},"value":"#9c9c9c"}}},
 {"data":{"name":"green"},
  "mark":{"type":"line","color":"#23902a","strokeWidth":3,"interpolate":"monotone"},
  "encoding":{"x":{"field":"i","type":"quantitative","scale":{"domain":[-20.833,313.47],"nice":false,"zero":false}},"y":{"field":"p","type":"quantitative","scale":{"domain":[20.8497,26.3225],"nice":false,"zero":false}}}},
 {"data":{"name":"k2"},
  "mark":{"type":"line","color":"#111111","strokeWidth":2,"interpolate":"monotone"},
  "encoding":{"x":{"field":"i","type":"quantitative","scale":{"domain":[-20.833,313.47],"nice":false,"zero":false}},"y":{"field":"p","type":"quantitative","scale":{"domain":[20.8497,26.3225],"nice":false,"zero":false}}}},
 {"data":{"name":"k1"},
  "mark":{"type":"line","color":"#111111","strokeWidth":1.3,"interpolate":"monotone"},
  "encoding":{"x":{"field":"i","type":"quantitative","scale":{"domain":[-20.833,313.47],"nice":false,"zero":false}},"y":{"field":"p","type":"quantitative","scale":{"domain":[20.8497,26.3225],"nice":false,"zero":false}}}},
 {"data":{"name":"blue"},
  "mark":{"type":"line","color":"#2233cc","strokeWidth":1.4,"interpolate":"monotone"},
  "encoding":{"x":{"field":"i","type":"quantitative","scale":{"domain":[-20.833,313.47],"nice":false,"zero":false}},"y":{"field":"p","type":"quantitative","scale":{"domain":[20.8497,26.3225],"nice":false,"zero":false}}}},
 {"data":{"name":"red"},
  "mark":{"type":"line","color":"#ee2020","strokeWidth":1.4,"interpolate":"monotone"},
  "encoding":{"x":{"field":"i","type":"quantitative","scale":{"domain":[-20.833,313.47],"nice":false,"zero":false}},"y":{"field":"p","type":"quantitative","scale":{"domain":[20.8497,26.3225],"nice":false,"zero":false}}}},
 {"data":{"name":"plab"},
  "mark":{"type":"rule","color":"#7a7a7a","strokeWidth":1},
  "encoding":{"x":{"datum":280.52,"type":"quantitative","scale":{"domain":[-20.833,313.47],"nice":false,"zero":false}},"x2":{"datum":281.9},"y":{"field":"p","type":"quantitative","scale":{"domain":[20.8497,26.3225],"nice":false,"zero":false}}}},
 {"data":{"name":"plab"},
  "mark":{"type":"text","align":"left","baseline":"middle","fontSize":6.2,"color":"#444444"},
  "encoding":{"x":{"datum":282.4,"type":"quantitative","scale":{"domain":[-20.833,313.47],"nice":false,"zero":false}},"y":{"field":"p","type":"quantitative","scale":{"domain":[20.8497,26.3225],"nice":false,"zero":false}},"text":{"field":"t"}}},
 {"data":{"values":[{"i":280.8,"i2":292.4,"p":24.40,"p2":24.30}]},
  "mark":{"type":"rect","color":"#111111"},
  "encoding":{"x":{"field":"i","type":"quantitative","scale":{"domain":[-20.833,313.47],"nice":false,"zero":false}},"x2":{"field":"i2"},"y":{"field":"p","type":"quantitative","scale":{"domain":[20.8497,26.3225],"nice":false,"zero":false}},"y2":{"field":"p2"}}},
 {"data":{"values":[{"i":281.6,"p":24.35,"t":"24.363"}]},
  "mark":{"type":"text","align":"left","baseline":"middle","fontSize":6.2,"color":"#ffffff"},
  "encoding":{"x":{"field":"i","type":"quantitative","scale":{"domain":[-20.833,313.47],"nice":false,"zero":false}},"y":{"field":"p","type":"quantitative","scale":{"domain":[20.8497,26.3225],"nice":false,"zero":false}},"text":{"field":"t"}}},
 {"data":{"values":[{"i":0.4,"p":25.375,"t":"▼ XAGUSD+,H4  24.205 24.373 24.186 24.363"}]},
  "mark":{"type":"text","align":"left","baseline":"middle","fontSize":6.2,"color":"#333333"},
  "encoding":{"x":{"field":"i","type":"quantitative","scale":{"domain":[-20.833,313.47],"nice":false,"zero":false}},"y":{"field":"p","type":"quantitative","scale":{"domain":[20.8497,26.3225],"nice":false,"zero":false}},"text":{"field":"t"}}}
]},
{"layer":[
 {"data":{"values":[{"i":-0.75,"i2":280.52,"v":102.8,"v2":-2.8}]},
  "mark":{"type":"rect","fill":"#ffffff","fillOpacity":0,"stroke":"#7a7a7a","strokeWidth":1.2},
  "encoding":{"x":{"field":"i","type":"quantitative","scale":{"domain":[-20.833,313.47],"nice":false,"zero":false}},"x2":{"field":"i2"},"y":{"field":"v","type":"quantitative","scale":{"domain":[-94.44,762.96],"nice":false,"zero":false}},"y2":{"field":"v2"}}},
 {"data":{"name":"lev"},
  "mark":{"type":"rule","color":"#a0a0a0","strokeWidth":1,"strokeDash":[1,2]},
  "encoding":{"x":{"datum":-0.5,"type":"quantitative","scale":{"domain":[-20.833,313.47],"nice":false,"zero":false}},"x2":{"datum":280.3},"y":{"field":"v","type":"quantitative","scale":{"domain":[-94.44,762.96],"nice":false,"zero":false}}}},
 {"data":{"name":"sts"},
  "mark":{"type":"line","color":"#5a5ad8","strokeWidth":1.1,"interpolate":"monotone"},
  "encoding":{"x":{"field":"i","type":"quantitative","scale":{"domain":[-20.833,313.47],"nice":false,"zero":false}},"y":{"field":"v","type":"quantitative","scale":{"domain":[-94.44,762.96],"nice":false,"zero":false}}}},
 {"data":{"name":"stm"},
  "mark":{"type":"line","color":"#f07888","strokeWidth":1.1,"interpolate":"monotone"},
  "encoding":{"x":{"field":"i","type":"quantitative","scale":{"domain":[-20.833,313.47],"nice":false,"zero":false}},"y":{"field":"v","type":"quantitative","scale":{"domain":[-94.44,762.96],"nice":false,"zero":false}}}},
 {"data":{"values":[{"i":0.6,"v":94,"t":"Stoch(13,3,3) 75.4310 70.1430"}]},
  "mark":{"type":"text","align":"left","baseline":"middle","fontSize":6.2,"color":"#333333"},
  "encoding":{"x":{"field":"i","type":"quantitative","scale":{"domain":[-20.833,313.47],"nice":false,"zero":false}},"y":{"field":"v","type":"quantitative","scale":{"domain":[-94.44,762.96],"nice":false,"zero":false}},"text":{"field":"t"}}},
 {"data":{"name":"slab"},
  "mark":{"type":"rule","color":"#7a7a7a","strokeWidth":1},
  "encoding":{"x":{"datum":280.52,"type":"quantitative","scale":{"domain":[-20.833,313.47],"nice":false,"zero":false}},"x2":{"datum":281.9},"y":{"field":"v","type":"quantitative","scale":{"domain":[-94.44,762.96],"nice":false,"zero":false}}}},
 {"data":{"values":[{"v":100,"t":"100"}]},
  "mark":{"type":"text","align":"left","baseline":"middle","fontSize":6.2,"dy":2.5,"color":"#444444"},
  "encoding":{"x":{"datum":282.4,"type":"quantitative","scale":{"domain":[-20.833,313.47],"nice":false,"zero":false}},"y":{"field":"v","type":"quantitative","scale":{"domain":[-94.44,762.96],"nice":false,"zero":false}},"text":{"field":"t"}}},
 {"data":{"values":[{"v":80,"t":"80"},{"v":50,"t":"50"},{"v":0,"t":"0"}]},
  "mark":{"type":"text","align":"left","baseline":"middle","fontSize":6.2,"color":"#444444"},
  "encoding":{"x":{"datum":282.4,"type":"quantitative","scale":{"domain":[-20.833,313.47],"nice":false,"zero":false}},"y":{"field":"v","type":"quantitative","scale":{"domain":[-94.44,762.96],"nice":false,"zero":false}},"text":{"field":"t"}}},
 {"data":{"name":"dlab"},
  "mark":{"type":"rule","color":"#7a7a7a","strokeWidth":1},
  "encoding":{"x":{"field":"i","type":"quantitative","scale":{"domain":[-20.833,313.47],"nice":false,"zero":false}},"y":{"datum":-2.8,"type":"quantitative","scale":{"domain":[-94.44,762.96],"nice":false,"zero":false}},"y2":{"datum":-9}}},
 {"data":{"name":"dlab"},
  "mark":{"type":"text","align":"left","baseline":"middle","fontSize":6.2,"dx":1,"color":"#444444"},
  "encoding":{"x":{"field":"i","type":"quantitative","scale":{"domain":[-20.833,313.47],"nice":false,"zero":false}},"y":{"datum":-16.7,"type":"quantitative","scale":{"domain":[-94.44,762.96],"nice":false,"zero":false}},"text":{"field":"t"}}}
]},
{"layer":[
 {"data":{"values":[{"cx":533,"cy":439,"t":"⊘"}]},
  "mark":{"type":"text","align":"left","baseline":"alphabetic","font":"DejaVu Sans","fontSize":14,"color":"#fafafa","stroke":"#b4b4b4","strokeWidth":0.35},
  "encoding":{"x":{"field":"cx","type":"quantitative","scale":{"domain":[0,690],"nice":false,"zero":false}},"y":{"field":"cy","type":"quantitative","scale":{"domain":[0,463],"reverse":true,"nice":false,"zero":false}},"text":{"field":"t"}}},
 {"data":{"values":[{"cx":548,"cy":440,"t":"@Ultima Markets"}]},
  "mark":{"type":"text","align":"left","baseline":"alphabetic","font":"Open Sans","fontSize":16.5,"color":"#fafafa","stroke":"#b4b4b4","strokeWidth":0.35},
  "encoding":{"x":{"field":"cx","type":"quantitative","scale":{"domain":[0,690],"nice":false,"zero":false}},"y":{"field":"cy","type":"quantitative","scale":{"domain":[0,463],"reverse":true,"nice":false,"zero":false}},"text":{"field":"t"}}}
]}
],
"resolve":{"scale":{"x":"independent","y":"independent"}}
}
